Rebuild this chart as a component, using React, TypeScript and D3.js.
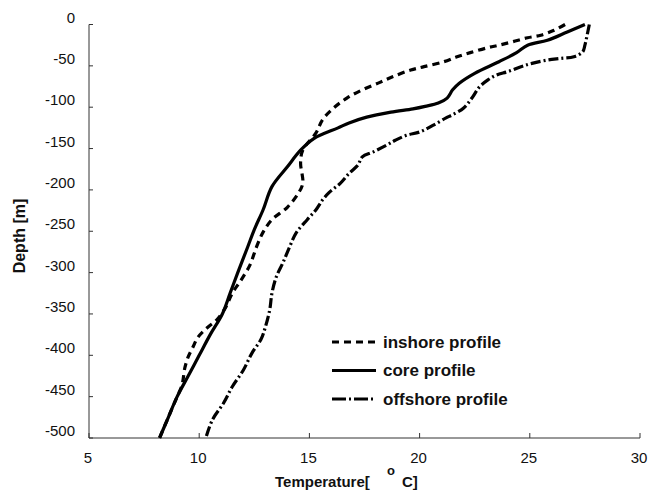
import React, { useEffect, useRef } from "react";
import * as d3 from "d3";

// temperature (°C) and depth (m)
const inshoreT = [26.6, 26.1, 25.5, 24.9, 24.2, 23.6, 23.1, 22.3, 21.7, 21.1, 20.2, 19.6, 18.8, 18.2, 17.4, 16.7, 16.1, 15.6, 15.3, 14.7, 14.6, 14.7, 14.5, 14.0, 13.3, 12.9, 12.6, 12.3, 11.9, 11.5, 11.2, 10.8, 10.35, 9.95, 9.7, 9.5, 9.35, 9.22, 9.0, 8.6, 8.2];
const inshoreD = [0, -7, -13, -16, -21, -25, -28, -34, -39, -45, -51, -55, -63, -70, -79, -89, -101, -115, -131, -152, -167, -192, -204, -221, -236, -251, -269, -291, -309, -325, -342, -357, -367, -378, -391, -402, -415, -436, -450, -475, -500];

const coreT = [27.5, 26.7, 25.8, 24.9, 24.4, 23.6, 22.5, 21.8, 21.5, 21.25, 20.85, 20.25, 19.7, 18.7, 17.6, 16.8, 16.3, 15.2, 14.6, 14.0, 13.3, 12.9, 12.5, 12.2, 11.75, 11.4, 11.05, 10.5, 10.0, 9.5, 9.0, 8.6, 8.2];
const coreD = [0, -9, -19, -25, -34, -45, -59, -71, -79, -89, -95, -99, -102, -106, -112, -119, -125, -138, -152, -172, -196, -224, -248, -269, -300, -325, -350, -375, -400, -425, -450, -475, -500];

const offshoreT = [27.7, 27.5, 27.4, 27.0, 26.4, 25.8, 25.1, 24.6, 24.0, 23.5, 23.1, 22.7, 22.4, 22.0, 21.5, 21.2, 20.6, 20.0, 19.4, 18.9, 18.5, 17.9, 17.4, 17.2, 16.8, 16.4, 15.9, 15.6, 15.3, 14.9, 14.4, 14.1, 13.8, 13.5, 13.3, 13.2, 13.0, 12.8, 12.4, 12.0, 11.5, 11.1, 10.6, 10.3];
const offshoreD = [0, -25, -33, -39, -41, -43, -47, -51, -57, -61, -67, -76, -88, -101, -109, -113, -122, -130, -134, -140, -146, -154, -160, -170, -180, -192, -203, -212, -224, -236, -252, -269, -288, -305, -325, -345, -366, -381, -397, -418, -438, -458, -478, -500];

const xTicks = [5, 10, 15, 20, 25, 30];
const yTicks = [0, -50, -100, -150, -200, -250, -300, -350, -400, -450, -500];

const seriesNames = ["inshore profile", "core profile", "offshore profile"];
const dashes = ["7,5", null, "10,3,2,3"];

export default function App() {
  const ref = useRef<SVGSVGElement>(null);

  useEffect(() => {
    const svg = d3.select(ref.current);
    svg.selectAll("*").remove();

    const x = d3.scaleLinear().domain([5, 30]).range([89, 640]);
    const y = d3.scaleLinear().domain([0, -500]).range([24.5, 438]);

    const font = "Liberation Sans, Arial, Helvetica, sans-serif";
    const axisColor = "#333";

    // y axis
    svg.append("line")
      .attr("x1", x(5)).attr("x2", x(5))
      .attr("y1", y(0)).attr("y2", y(-500))
      .attr("stroke", axisColor).attr("stroke-width", 1);
    yTicks.forEach(t => {
      svg.append("line")
        .attr("x1", x(5)).attr("x2", x(5) + 4)
        .attr("y1", y(t)).attr("y2", y(t))
        .attr("stroke", axisColor);
      svg.append("text")
        .attr("x", 75).attr("y", y(t) - 2)
        .attr("text-anchor", "end")
        .attr("font-family", font).attr("font-size", 15)
        .attr("fill", "#111")
        .text(t);
    });

    // x axis
    svg.append("line")
      .attr("x1", x(5)).attr("x2", x(30))
      .attr("y1", y(-500)).attr("y2", y(-500))
      .attr("stroke", axisColor);
    xTicks.forEach(t => {
      svg.append("line")
        .attr("x1", x(t)).attr("x2", x(t))
        .attr("y1", y(-500)).attr("y2", y(-500) - 5)
        .attr("stroke", axisColor);
      svg.append("text")
        .attr("x", x(t) - 1).attr("y", 463)
        .attr("text-anchor", "middle")
        .attr("font-family", font).attr("font-size", 15)
        .attr("fill", "#111")
        .text(t);
    });

    // axis titles
    const titleStyle = (s: any) => s
      .attr("font-family", font).attr("font-size", 15)
      .attr("font-weight", "bold").attr("fill", "#111");
    svg.append("text").call(titleStyle)
      .attr("x", 275).attr("y", 487).text("Temperature[");
    svg.append("text").call(titleStyle)
      .attr("x", 387).attr("y", 475).attr("font-size", 13).text("o");
    svg.append("text").call(titleStyle)
      .attr("x", 402).attr("y", 487).text("C]");

    svg.append("text")
      .attr("transform", "translate(25,236) rotate(-90)")
      .attr("text-anchor", "middle")
      .call(titleStyle)
      .attr("font-size", 16)
      .text("Depth [m]");

    // profiles
    const series = [
      inshoreT.map((t, i) => [t, inshoreD[i]]),
      coreT.map((t, i) => [t, coreD[i]]),
      offshoreT.map((t, i) => [t, offshoreD[i]]),
    ];
    const line = d3.line<number[]>()
      .x(d => x(d[0]))
      .y(d => y(d[1]))
      .curve(d3.curveCatmullRom.alpha(0.5));

    series.forEach((s, i) => {
      svg.append("path")
        .attr("d", line(s))
        .attr("fill", "none")
        .attr("stroke", "#000")
        .attr("stroke-width", 3.2)
        .attr("stroke-dasharray", dashes[i]);
    });

    // legend
    seriesNames.forEach((name, i) => {
      const ly = 342 + i * 28.5;
      svg.append("line")
        .attr("x1", 332).attr("x2", 376)
        .attr("y1", ly).attr("y2", ly)
        .attr("stroke", "#000").attr("stroke-width", 3.2)
        .attr("stroke-dasharray", i === 0 ? "7,5" : i === 2 ? "14,3,2,3" : null);
      svg.append("text")
        .attr("x", 383).attr("y", ly + 5.5)
        .attr("font-family", font).attr("font-size", 17)
        .attr("font-weight", "bold").attr("fill", "#111")
        .text(name);
    });
  }, []);

  return (
    <svg ref={ref} width={655} height={492}
      style={{ position: "absolute", left: 0, top: 0, background: "#fff" }} />
  );
}
